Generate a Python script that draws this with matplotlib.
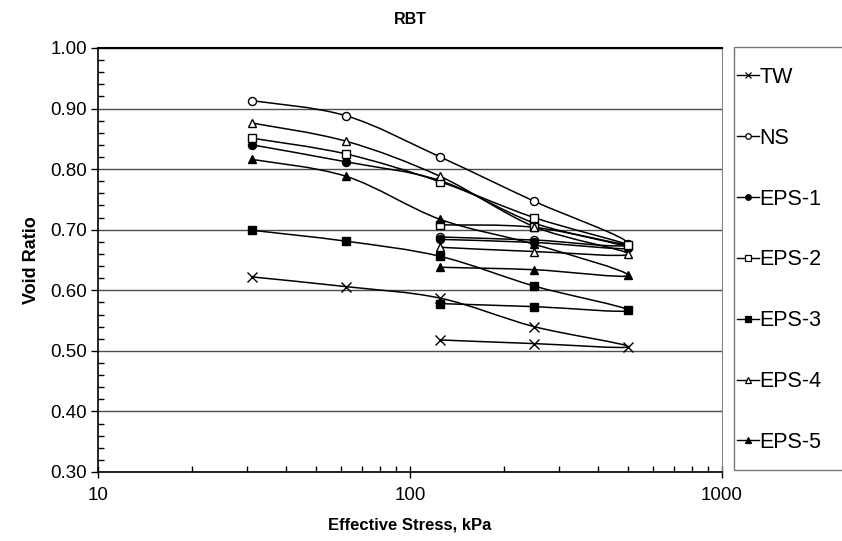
import numpy as np
import matplotlib
matplotlib.use('Agg')
import matplotlib.pyplot as plt
from matplotlib.path import Path
from matplotlib.patches import PathPatch, Rectangle
from matplotlib.lines import Line2D
from matplotlib.ticker import MultipleLocator, FixedLocator, NullFormatter

plt.rcParams['font.family'] = ['Liberation Sans', 'DejaVu Sans']

# loading 31.25 -> 500 kPa, then unloading back to 125 kPa
stress = [31.25, 62.5, 125, 250, 500, 250, 125]

tw = [0.622, 0.606, 0.587, 0.540, 0.507, 0.512, 0.518]
ns = [0.913, 0.888, 0.820, 0.747, 0.677, 0.683, 0.688]
eps1 = [0.840, 0.812, 0.781, 0.711, 0.670, 0.679, 0.684]
eps2 = [0.851, 0.825, 0.779, 0.720, 0.675, 0.704, 0.708]
eps3 = [0.699, 0.681, 0.656, 0.607, 0.567, 0.573, 0.578]
eps4 = [0.876, 0.846, 0.788, 0.705, 0.660, 0.664, 0.671]
eps5 = [0.816, 0.788, 0.717, 0.676, 0.625, 0.634, 0.638]

labels = ['TW', 'NS', 'EPS-1', 'EPS-2', 'EPS-3', 'EPS-4', 'EPS-5']
series = [tw, ns, eps1, eps2, eps3, eps4, eps5]
# marker, filled?
styles = [('x', True), ('o', False), ('o', True), ('s', False),
          ('s', True), ('^', False), ('^', True)]


def smooth_path(xs, ys):
    # excel-like smoothed line, built as a bezier path in log-x space
    pts = np.column_stack([np.log10(xs), ys])
    n = len(pts)
    verts = [pts[0]]
    codes = [Path.MOVETO]
    for i in range(n - 1):
        p0 = pts[max(i - 1, 0)]
        p1 = pts[i]
        p2 = pts[i + 1]
        p3 = pts[min(i + 2, n - 1)]
        verts += [p1 + (p2 - p0) / 6, p2 - (p3 - p1) / 6, p2]
        codes += [Path.CURVE4] * 3
    verts = np.array(verts)
    verts[:, 0] = 10 ** verts[:, 0]
    return Path(verts, codes)


fig = plt.figure(figsize=(8.42, 5.41), dpi=100)
ax = fig.add_axes([98 / 842, 1 - 472 / 541, 624 / 842, 424 / 541])
ax.set_xscale('log')
ax.set_xlim(10, 1000)
ax.set_ylim(0.3, 1.0)

for vals, (mk, filled), lab in zip(series, styles, labels):
    ax.add_patch(PathPatch(smooth_path(stress, vals), fill=False,
                           edgecolor='black', lw=1.1, zorder=3))
    face = 'black' if filled else 'white'
    ms = 7.5 if mk == 'x' else 5.8
    ax.plot(stress, vals, linestyle='none', marker=mk, ms=ms,
            mfc=face, mec='black', mew=1.0, zorder=4)

ax.yaxis.set_major_locator(MultipleLocator(0.1))
ax.yaxis.set_minor_locator(MultipleLocator(0.02))
ax.yaxis.set_major_formatter(matplotlib.ticker.FormatStrFormatter('%.2f'))
ax.xaxis.set_major_locator(FixedLocator([10, 100, 1000]))
ax.xaxis.set_major_formatter(matplotlib.ticker.FixedFormatter(['10', '100', '1000']))
minors = [m * d for d in (10, 100) for m in range(2, 10)]
ax.xaxis.set_minor_locator(FixedLocator(minors))
ax.xaxis.set_minor_formatter(NullFormatter())

ax.tick_params(axis='y', which='major', direction='out', length=5, width=1,
               labelsize=13.5, pad=3)
ax.tick_params(axis='y', which='minor', direction='in', length=4, width=1)
ax.tick_params(axis='x', which='major', direction='inout', length=9, width=1,
               labelsize=13.5, pad=6)
ax.tick_params(axis='x', which='minor', direction='in', length=4, width=1)

ax.grid(True, axis='y', which='major', color='#4d4d4d', lw=1)
ax.spines['top'].set_color('black')
ax.spines['top'].set_linewidth(1.5)
ax.spines['right'].set_color('#888888')
ax.spines['left'].set_linewidth(1.2)
ax.spines['bottom'].set_linewidth(1.2)

ax.set_title('RBT', fontsize=11.5, fontweight='bold', pad=17)
ax.set_ylabel('Void Ratio', fontsize=13, fontweight='bold', labelpad=7)
ax.set_xlabel('Effective Stress, kPa', fontsize=12, fontweight='bold', labelpad=10)

handles = []
for (mk, filled) in styles:
    face = 'black' if filled else 'white'
    ms = 5 if mk == 'x' else 4
    handles.append(Line2D([], [], color='black', lw=1, marker=mk, ms=ms,
                          mfc=face, mec='black', mew=0.9))

fig.add_artist(Rectangle((734 / 842, 1 - 470 / 541), 0.2, 423 / 541,
                         transform=fig.transFigure, fill=False,
                         edgecolor='#777777', lw=1))
fig.legend(handles, labels, loc='upper left',
           bbox_to_anchor=(737 / 842, 1 - 67 / 541), frameon=False,
           fontsize=15.5, handlelength=1.0, handletextpad=0.05,
           labelspacing=1.85, borderpad=0, borderaxespad=0)

fig.savefig('out.png', dpi=100)
